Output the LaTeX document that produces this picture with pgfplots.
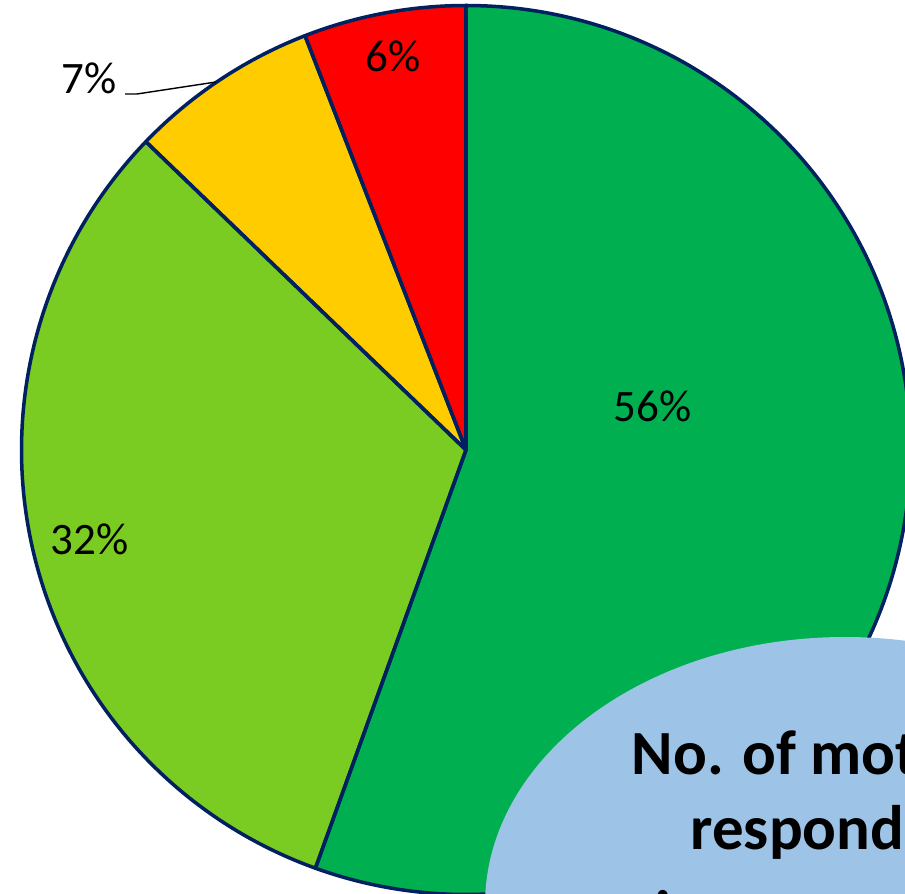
\documentclass[border=0pt]{standalone}
\usepackage{pgfplots}
\pgfplotsset{compat=1.18}
\usepackage{fontspec}
\setmainfont{Carlito}
\definecolor{gA}{RGB}{0,176,80}
\definecolor{gB}{RGB}{122,204,34}
\definecolor{yel}{RGB}{255,204,0}
\definecolor{rd}{RGB}{255,0,0}
\definecolor{navy}{RGB}{0,32,96}
\definecolor{lblue}{RGB}{157,195,230}
% slice values (percent), clockwise from 12 o'clock
\def\vA{55.5}\def\vB{31.7}\def\vC{6.9}\def\vD{5.9}
\pgfmathsetmacro\aA{90}
\pgfmathsetmacro\aB{\aA-3.6*\vA}
\pgfmathsetmacro\aC{\aB-3.6*\vB}
\pgfmathsetmacro\aD{\aC-3.6*\vC}
\pgfmathsetmacro\aE{\aD-3.6*\vD}
\def\R{4.445cm}
\begin{document}
\begin{tikzpicture}
\useasboundingbox (0,0) rectangle (9.05,8.94);
\clip (0,0) rectangle (9.05,8.94);
\begin{axis}[at={(0,0)}, anchor=south west, scale only axis,
  width=9.05cm, height=8.94cm, xmin=0, xmax=905, ymin=0, ymax=894,
  hide axis, clip=false]
\fill[gA] (axis cs:466,444) -- ++(\aA:\R) arc[start angle=\aA, end angle=\aB, radius=\R] -- cycle;
\fill[gB] (axis cs:466,444) -- ++(\aB:\R) arc[start angle=\aB, end angle=\aC, radius=\R] -- cycle;
\fill[yel] (axis cs:466,444) -- ++(\aC:\R) arc[start angle=\aC, end angle=\aD, radius=\R] -- cycle;
\fill[rd] (axis cs:466,444) -- ++(\aD:\R) arc[start angle=\aD, end angle=\aE, radius=\R] -- cycle;
\draw[navy, line width=1pt, line join=round] (axis cs:466,444) -- ++(\aA:\R) arc[start angle=\aA, end angle=\aB, radius=\R] -- cycle;
\draw[navy, line width=1pt, line join=round] (axis cs:466,444) -- ++(\aB:\R) arc[start angle=\aB, end angle=\aC, radius=\R] -- cycle;
\draw[navy, line width=1pt, line join=round] (axis cs:466,444) -- ++(\aC:\R) arc[start angle=\aC, end angle=\aD, radius=\R] -- cycle;
\draw[navy, line width=1pt, line join=round] (axis cs:466,444) -- ++(\aD:\R) arc[start angle=\aD, end angle=\aE, radius=\R] -- cycle;
% labels
\node[anchor=base west, inner sep=0pt, font=\fontsize{12.8}{15}\selectfont] at (axis cs:613,472) {56\%};
\node[anchor=base west, inner sep=0pt, font=\fontsize{12.8}{15}\selectfont] at (axis cs:50,339) {32\%};
\node[anchor=base west, inner sep=0pt, font=\fontsize{12.8}{15}\selectfont] at (axis cs:365,822) {6\%};
\node[anchor=base west, inner sep=0pt, font=\fontsize{12.8}{15}\selectfont] at (axis cs:61,800) {7\%};
\draw[black, line width=0.4pt] (axis cs:125,800) -- (axis cs:137,800) -- (axis cs:216,812);
% overlay ellipse with title
\fill[lblue] (axis cs:845,-11) ellipse[x radius=3.60cm, y radius=2.68cm];
\node[anchor=base west, inner sep=0pt, font=\bfseries\fontsize{17.9}{21}\selectfont] at (axis cs:631,119) {No. of mothers};
\node[anchor=base west, inner sep=0pt, font=\bfseries\fontsize{17.9}{21}\selectfont] at (axis cs:690,44) {respondents};
\node[anchor=base west, inner sep=0pt, font=\bfseries\fontsize{17.9}{21}\selectfont] at (axis cs:655,-41) {in percentage};
\end{axis}
\end{tikzpicture}
\end{document}
